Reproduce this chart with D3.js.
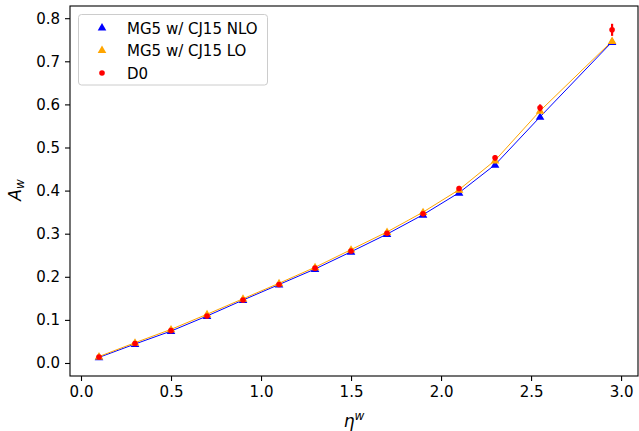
<!DOCTYPE html>
<html>
<head>
<meta charset="utf-8">
<script src="https://cdn.jsdelivr.net/npm/d3@7"></script>
<style>
  html, body { margin: 0; padding: 0; background: #fff; }
  svg { display: block; font-family: "DejaVu Sans", sans-serif; }
</style>
</head>
<body>
<svg id="chart" width="639" height="431"></svg>
<script>
// W charge asymmetry vs. W rapidity
const etaW = [0.1, 0.3, 0.5, 0.7, 0.9, 1.1, 1.3, 1.5, 1.7, 1.9, 2.1, 2.3, 2.55, 2.95];
const mg5NLO = [0.013, 0.044, 0.074, 0.109, 0.146, 0.182, 0.218, 0.258, 0.299, 0.344, 0.395, 0.460, 0.571, 0.745];
const mg5LO  = [0.015, 0.047, 0.078, 0.113, 0.149, 0.185, 0.222, 0.263, 0.304, 0.350, 0.402, 0.470, 0.585, 0.747];
const d0Val  = [0.014, 0.045, 0.075, 0.109, 0.146, 0.182, 0.220, 0.260, 0.301, 0.346, 0.405, 0.476, 0.592, 0.773];
const d0Err  = [0.003, 0.003, 0.003, 0.003, 0.003, 0.003, 0.003, 0.003, 0.004, 0.004, 0.005, 0.006, 0.008, 0.014];
const xTicks = [0.0, 0.5, 1.0, 1.5, 2.0, 2.5, 3.0];
const yTicks = [0.0, 0.1, 0.2, 0.3, 0.4, 0.5, 0.6, 0.7, 0.8];

const svg = d3.select("#chart");
const plotL = 70, plotR = 638, plotT = 6, plotB = 376;

const x = d3.scaleLinear().domain([-0.0611, 3.094]).range([plotL, plotR]);
const y = d3.scaleLinear().domain([-0.0302, 0.8283]).range([plotB, plotT]);

// axes
const xAxis = d3.axisBottom(x).tickValues(xTicks).tickFormat(d3.format(".1f")).tickSize(5).tickPadding(5);
const yAxis = d3.axisLeft(y).tickValues(yTicks).tickFormat(d3.format(".1f")).tickSize(5).tickPadding(5);

const gx = svg.append("g").attr("transform", `translate(0,${plotB})`).call(xAxis);
const gy = svg.append("g").attr("transform", `translate(${plotL},0)`).call(yAxis);
[gx, gy].forEach(g => {
  g.select(".domain").remove();
  g.selectAll("text").attr("font-size", 15).attr("fill", "#000").attr("font-family", "DejaVu Sans");
  g.selectAll("line").attr("stroke", "#000").attr("stroke-width", 1.1);
});

// frame
svg.append("rect").attr("x", plotL).attr("y", plotT).attr("width", plotR - plotL).attr("height", plotB - plotT)
  .attr("fill", "none").attr("stroke", "#000").attr("stroke-width", 1.1);

// lines
const line = vals => d3.line().x((d, i) => x(etaW[i])).y(d => y(d))(vals);
svg.append("path").attr("d", line(mg5NLO)).attr("fill", "none").attr("stroke", "blue").attr("stroke-width", 1);
svg.append("path").attr("d", line(mg5LO)).attr("fill", "none").attr("stroke", "orange").attr("stroke-width", 1);

const tri = d3.symbol().type(d3.symbolTriangle).size(32);

svg.append("g").selectAll("path").data(mg5NLO).join("path")
  .attr("d", tri).attr("fill", "blue")
  .attr("transform", (d, i) => `translate(${x(etaW[i])},${y(d) + 0.5})`);
svg.append("g").selectAll("path").data(mg5LO).join("path")
  .attr("d", tri).attr("fill", "orange")
  .attr("transform", (d, i) => `translate(${x(etaW[i])},${y(d) + 0.5})`);

// D0 data with error bars
const d0 = svg.append("g");
d0.selectAll("line").data(d0Val).join("line")
  .attr("x1", (d, i) => x(etaW[i])).attr("x2", (d, i) => x(etaW[i]))
  .attr("y1", (d, i) => y(d - d0Err[i])).attr("y2", (d, i) => y(d + d0Err[i]))
  .attr("stroke", "red").attr("stroke-width", 2.2);
d0.selectAll("circle").data(d0Val).join("circle")
  .attr("cx", (d, i) => x(etaW[i])).attr("cy", d => y(d)).attr("r", 2.8).attr("fill", "red");

// axis titles
svg.append("text").attr("x", 354).attr("y", 427).attr("text-anchor", "middle")
  .attr("font-size", 17).attr("font-style", "italic").attr("font-family", "DejaVu Sans")
  .html('η<tspan dy="-7" font-size="12">w</tspan>');
svg.append("text").attr("transform", "translate(21,190) rotate(-90)").attr("text-anchor", "middle")
  .attr("font-size", 17).attr("font-style", "italic").attr("font-family", "DejaVu Sans")
  .html('A<tspan dy="3" font-size="12">w</tspan>');

// legend
const lg = svg.append("g");
lg.append("rect").attr("x", 78.5).attr("y", 14.5).attr("width", 189).attr("height", 70.5).attr("rx", 3)
  .attr("fill", "#fff").attr("fill-opacity", 0.8).attr("stroke", "#ccc").attr("stroke-width", 1);
const items = [
  { label: "MG5 w/ CJ15 NLO", color: "blue", type: "tri" },
  { label: "MG5 w/ CJ15 LO", color: "orange", type: "tri" },
  { label: "D0", color: "red", type: "dot" }
];
items.forEach((it, i) => {
  const cy = 28 + i * 22.5;
  if (it.type === "tri") {
    lg.append("path").attr("d", tri).attr("fill", it.color).attr("transform", `translate(102,${cy})`);
  } else {
    lg.append("circle").attr("cx", 102).attr("cy", cy).attr("r", 2.8).attr("fill", it.color);
  }
  lg.append("text").attr("x", 127).attr("y", cy + 5.5).attr("font-size", 15).attr("font-family", "DejaVu Sans").text(it.label);
});
</script>
</body>
</html>
